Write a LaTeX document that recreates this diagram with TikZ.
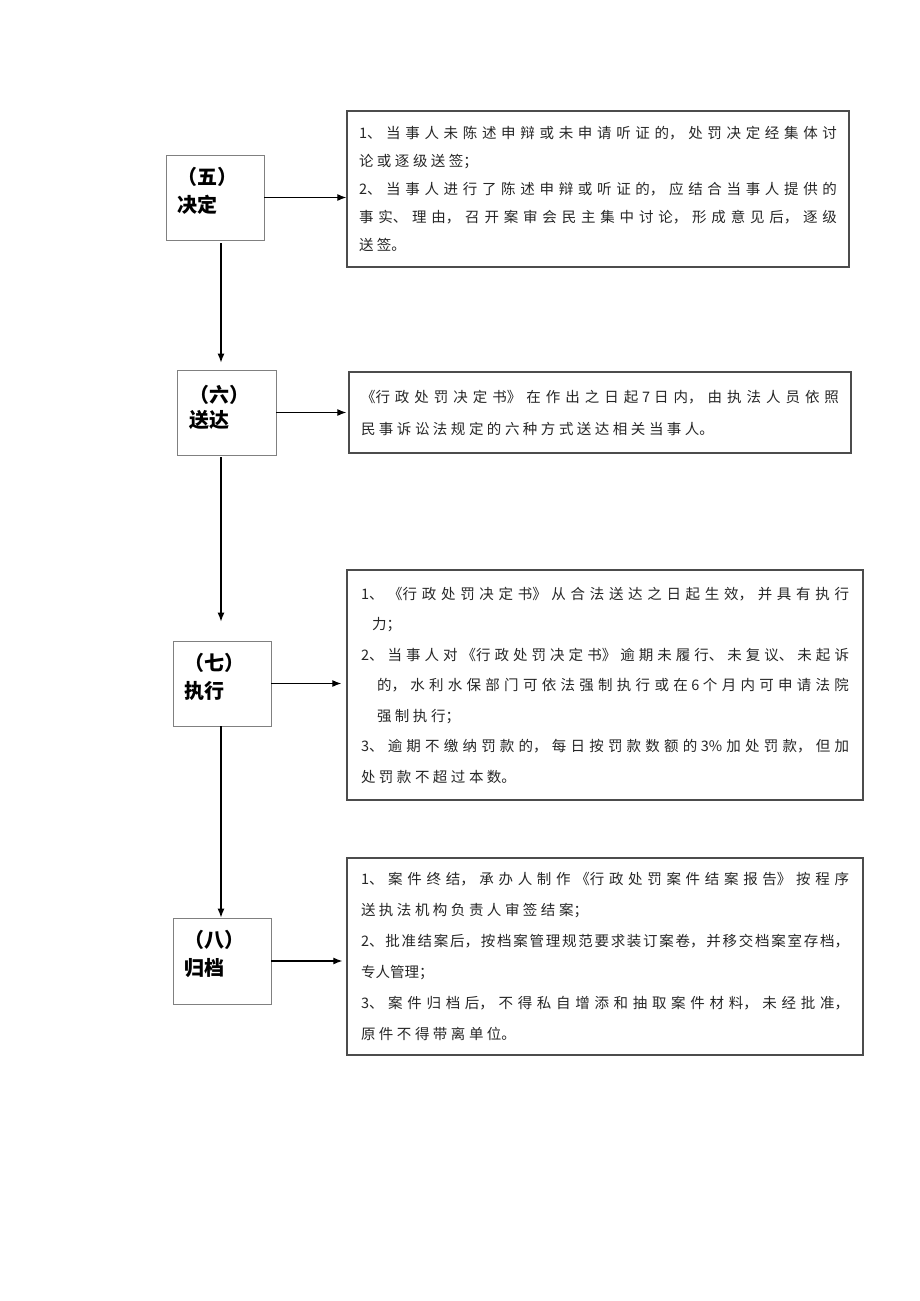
\documentclass[tikz,border=0pt]{standalone}
\usepackage{fontspec}
\setmainfont{Noto Sans CJK SC}
\usepackage{tikz}
\usetikzlibrary{
  calc,
  positioning,
  arrows.meta
}
\XeTeXlinebreaklocale "zh"
\newcommand{\notefont}[1]{\fontsize{14.5}{#1}\selectfont\XeTeXlinebreakskip=3.5pt plus 4pt minus 1pt\relax}
\newcommand{\tightcjk}{\XeTeXlinebreakskip=0pt plus 5pt\relax}

\begin{document}
\begin{tikzpicture}[x=1pt,y=-1pt,
    stepbox/.style={draw=black!50, line width=0.8pt, inner sep=0pt, minimum width=98pt, minimum height=85pt},
    steplabel/.style={anchor=north west, inner sep=0pt, align=left, font=\bfseries\fontsize{20}{28}\selectfont},
    notebox/.style={draw=black!70, line width=1.3pt, inner ysep=0pt, align=justify, text=black!85},
    link/.style={-{Latex[length=9pt,width=7pt]}, line width=1.2pt}]
      \useasboundingbox (0,0) rectangle (920,1301);

      % steps on the left
      \node[stepbox] (s5) at (215,197.5) {};
      \node[stepbox, minimum width=99pt] (s6) at (226.5,412.5) {};
      \node[stepbox] (s7) at (222,683.5) {};
      \node[stepbox, minimum height=86pt] (s8) at (222,961) {};

      \node[steplabel] (l5) at ([shift={(12,12)}]s5.north west) {（五）\\决定};
      \node[steplabel, font=\bfseries\fontsize{20}{25}\selectfont] (l6) at ([shift={(13,15)}]s6.north west) {（六）\\送达};
      \node[steplabel] (l7) at ([shift={(12,12)}]s7.north west) {（七）\\执行};
      \node[steplabel] (l8) at ([shift={(12,12)}]s8.north west) {（八）\\归档};

      % details on the right
      \node[notebox, text width=478pt, inner xsep=12pt, minimum height=156pt, font=\notefont{28}] (d5) at (598,189) {%
        1、当事人未陈述申辩或未申请听证的，处罚决定经集体讨\linebreak 论或逐级送签；\par
        2、当事人进行了陈述申辩或听证的，应结合当事人提供的\linebreak 事实、理由，召开案审会民主集中讨论，形成意见后，逐级\linebreak 送签。};
      \node[notebox, text width=478pt, inner xsep=12pt, minimum height=81pt, font=\notefont{32}] (d6) at (600,412.5) {%
        《行政处罚决定书》在作出之日起 7 日内，由执法人员依照\linebreak 民事诉讼法规定的六种方式送达相关当事人。};
      \node[notebox, text width=488pt, inner xsep=14pt, minimum height=230pt, font=\notefont{30.5}] (d7) at (605,685) {%
        \hangindent=11pt\hangafter=1 1、《行政处罚决定书》从合法送达之日起生效，并具有执行\linebreak 力；\par
        \hangindent=16pt\hangafter=1 2、当事人对《行政处罚决定书》逾期未履行、未复议、未起诉\linebreak 的，水利水保部门可依法强制执行或在 6 个月内可申请法院\linebreak 强制执行；\par
        3、逾期不缴纳罚款的，每日按罚款数额的 3\%加处罚款，但加\linebreak 处罚款不超过本数。};
      \node[notebox, text width=488pt, inner xsep=14pt, minimum height=197pt, font=\notefont{31}] (d8) at (605,956.5) {%
        1、案件终结，承办人制作《行政处罚案件结案报告》按程序\linebreak 送执法机构负责人审签结案；\par
        {\tightcjk 2、批准结案后，按档案管理规范要求装订案卷，并移交档案室存档，\linebreak 专人管理；}\par
        3、案件归档后，不得私自增添和抽取案件材料，未经批准，\linebreak 原件不得带离单位。};

      % vertical arrows
      \coordinate (spine) at (221,0);
      \draw[link, shorten <=3pt, shorten >=7pt] (s5.south -| spine) -- (s6.north -| spine);
      \draw[link, shorten <=2pt, shorten >=19pt] (s6.south -| spine) -- (s7.north -| spine);
      \draw[link] (s7.south -| spine) -- (s8.north -| spine);

      % arrows to the details
      \draw[link] (s5.east) -- (s5.east -| d5.west);
      \draw[link, shorten >=2pt] (s6.east) -- (s6.east -| d6.west);
      \draw[link, shorten >=5pt] (s7.east) -- (s7.east -| d7.west);
      \draw[link, shorten >=4pt] (s8.east) -- (s8.east -| d8.west);
\end{tikzpicture}
\end{document}
